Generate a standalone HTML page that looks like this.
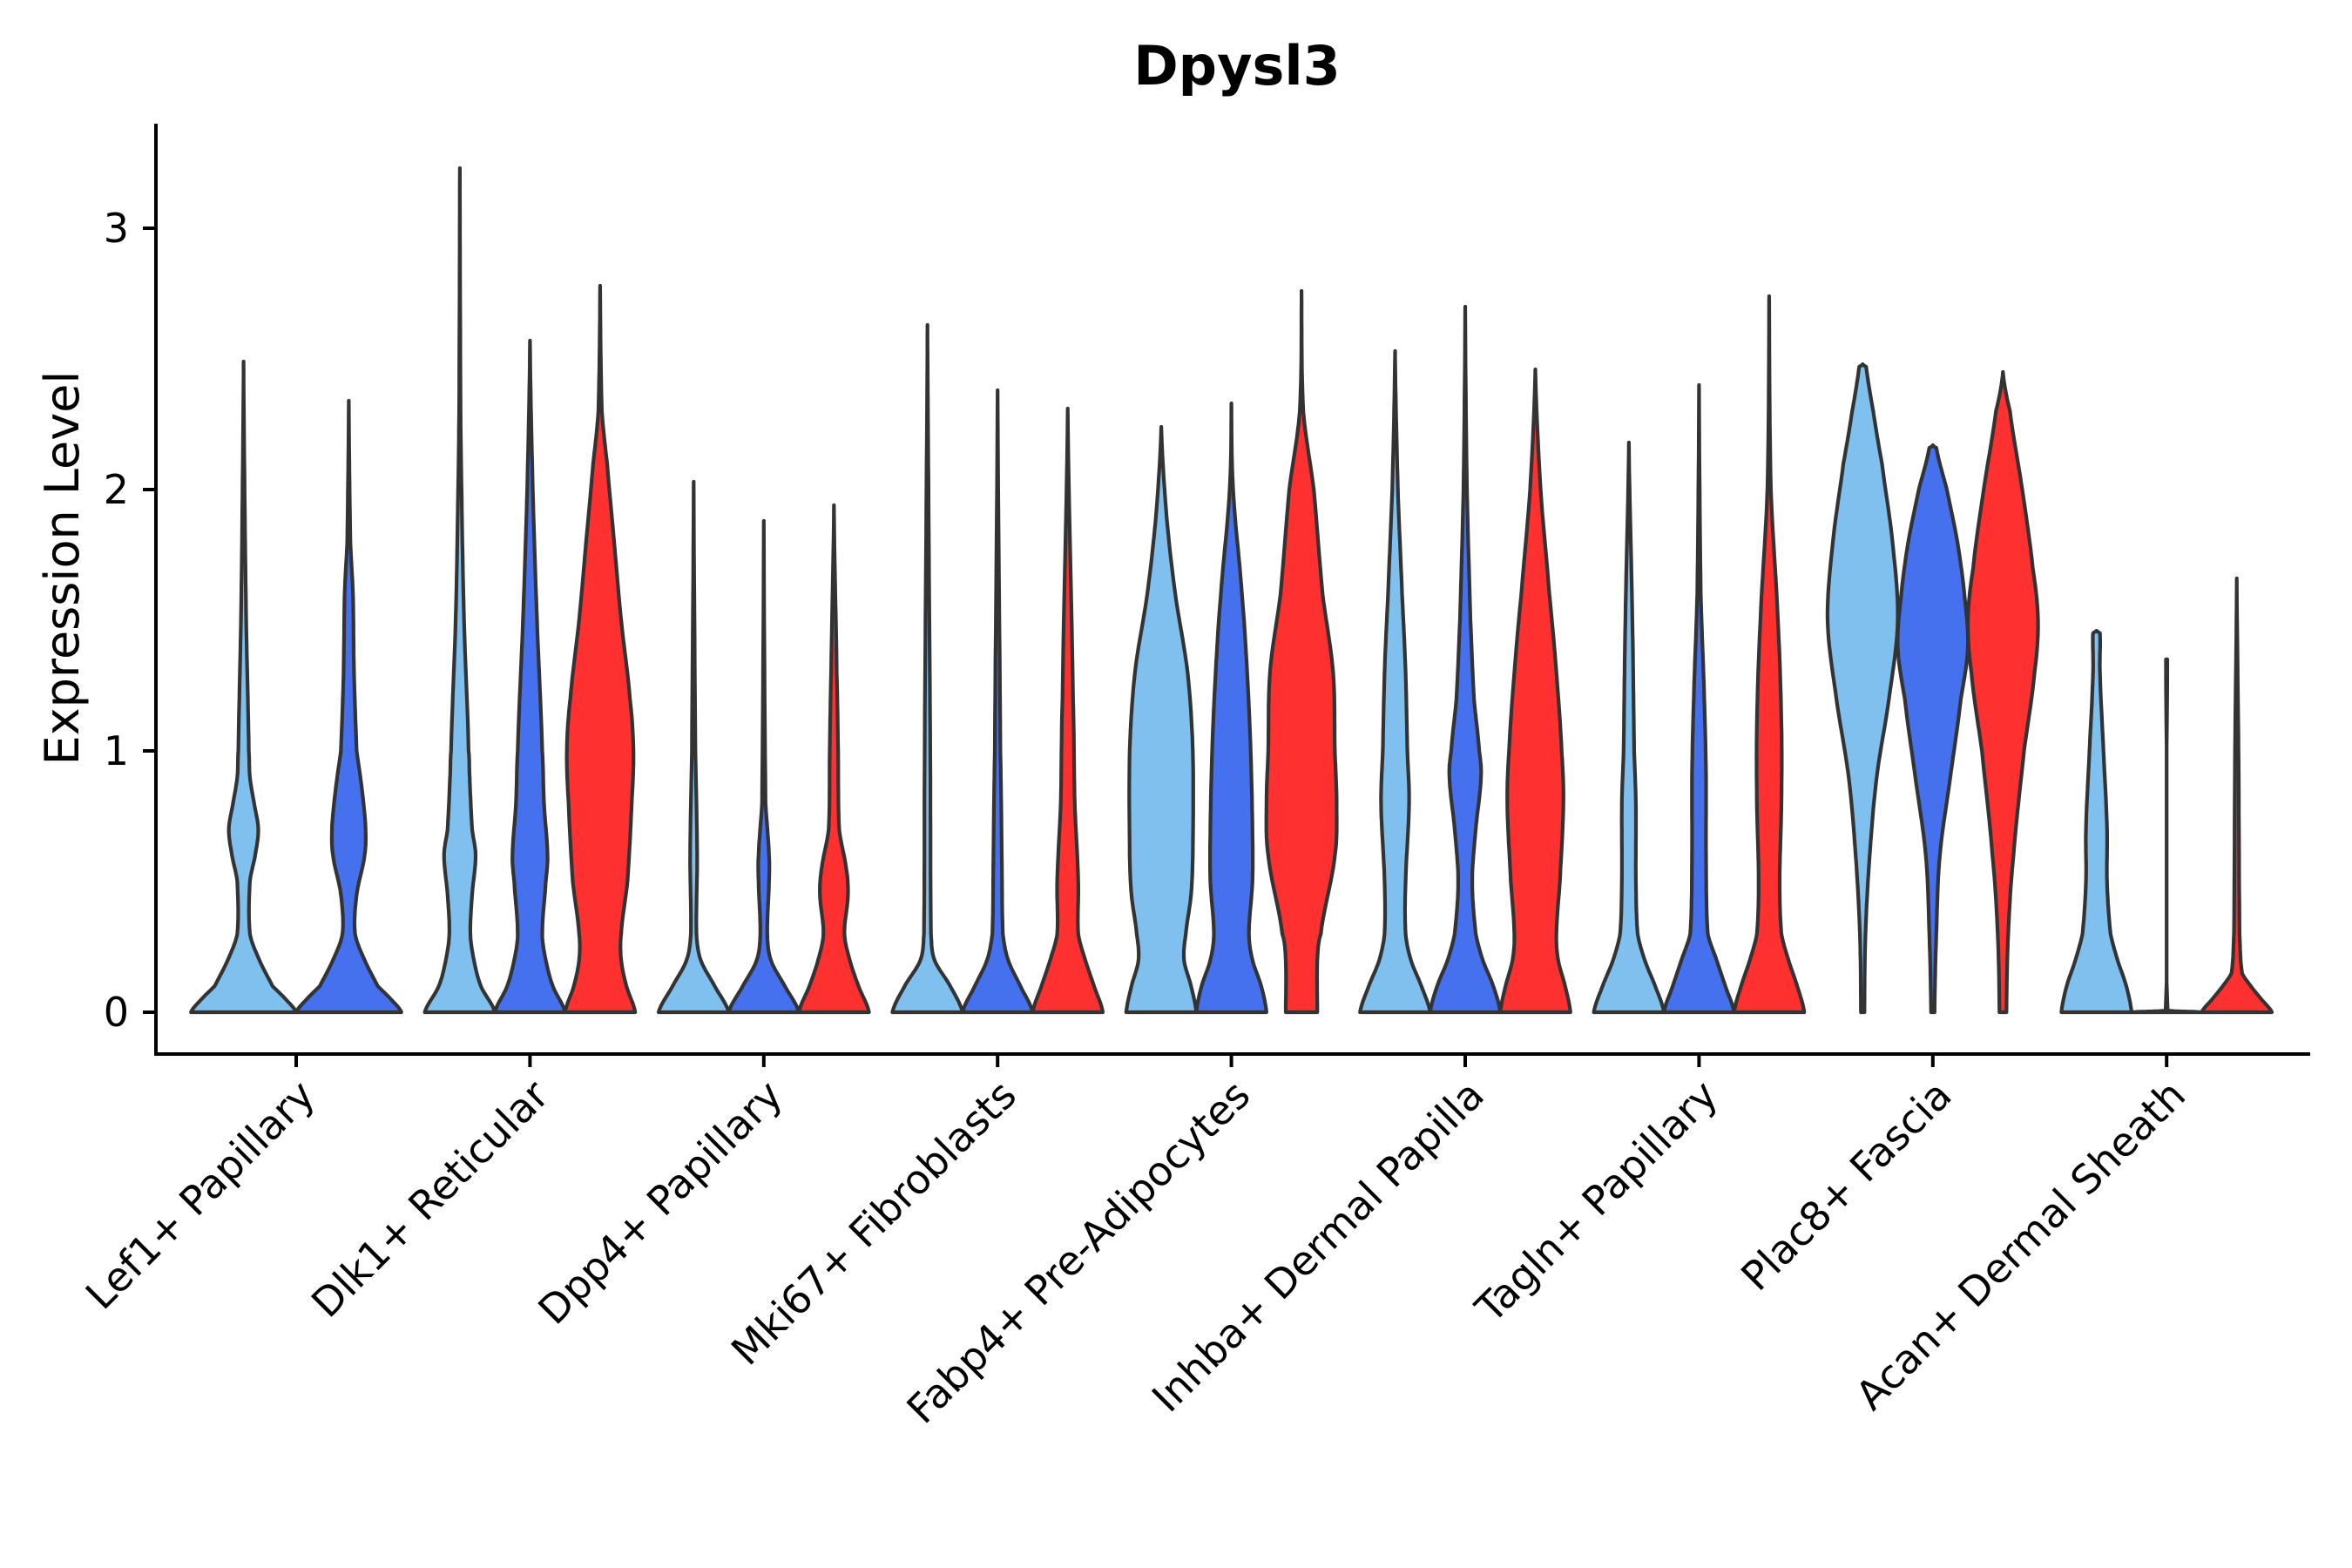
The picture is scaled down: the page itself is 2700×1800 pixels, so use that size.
<!DOCTYPE html>
<html><head><meta charset="utf-8"><style>
html,body{margin:0;padding:0;background:#fff}
svg{display:block}
text{font-family:"DejaVu Sans","Liberation Sans",sans-serif;fill:#000}
</style></head><body>
<svg id="chart" width="2700" height="1800" viewBox="0 0 2700 1800" xmlns="http://www.w3.org/2000/svg">
<text x="1420" y="97" font-size="62" font-weight="bold" text-anchor="middle">Dpysl3</text>
<text transform="translate(90,652) rotate(-90)" font-size="54" text-anchor="middle">Expression Level</text>
<g id="plot"></g>
</svg>
<script>
const categories = ["Lef1+ Papillary","Dlk1+ Reticular","Dpp4+ Papillary","Mki67+ Fibroblasts","Fabp4+ Pre-Adipocytes","Inhba+ Dermal Papilla","Tagln+ Papillary","Plac8+ Fascia","Acan+ Dermal Sheath"];
const groupNames = ["group-light","group-blue","group-red"];
const groupColors = ["#7FC0EE","#4570EE","#FF3030"];
const yTicks = [0,1,2,3];
const lef1 = [
 [0, [[0,1],[0.05,0.8],[0.1,0.55],[0.2,0.3],[0.3,0.12],[0.5,0.12],[0.6,0.22],[0.7,0.28],[0.8,0.2],[0.9,0.12],[1.0,0.1],[1.5,0.05],[2.0,0.02],[2.49,0]]],
 [1, [[0,1],[0.05,0.8],[0.1,0.55],[0.2,0.3],[0.3,0.12],[0.45,0.15],[0.6,0.3],[0.7,0.32],[0.8,0.28],[0.9,0.22],[1.0,0.15],[1.3,0.1],[1.6,0.08],[1.8,0.03],[2.34,0]]]
];
const dlk1 = [
 [0, [[0,1],[0.1,0.6],[0.2,0.4],[0.3,0.3],[0.45,0.35],[0.6,0.45],[0.7,0.35],[0.9,0.28],[1.0,0.25],[1.5,0.12],[2.0,0.05],[2.3,0.02],[3.23,0]]],
 [1, [[0,1],[0.1,0.65],[0.2,0.45],[0.3,0.35],[0.5,0.45],[0.6,0.5],[0.8,0.4],[1.0,0.35],[1.5,0.2],[2.0,0.08],[2.57,0]]],
 [2, [[0,1],[0.1,0.75],[0.2,0.6],[0.3,0.6],[0.5,0.78],[0.8,0.9],[1.0,0.95],[1.2,0.85],[1.5,0.6],[1.8,0.4],[2.1,0.2],[2.3,0.05],[2.78,0]]]
];
const dpp4 = [
 [0, [[0,1],[0.1,0.6],[0.2,0.2],[0.3,0.08],[0.6,0.1],[1.0,0.05],[2.03,0]]],
 [1, [[0,1],[0.1,0.6],[0.2,0.2],[0.3,0.1],[0.5,0.15],[0.6,0.15],[0.8,0.05],[1.88,0]]],
 [2, [[0,1],[0.1,0.7],[0.2,0.45],[0.3,0.3],[0.45,0.4],[0.55,0.35],[0.7,0.15],[1.0,0.12],[1.3,0.08],[1.94,0]]]
];
const mki67 = [
 [0, [[0,1],[0.1,0.65],[0.2,0.2],[0.3,0.1],[1.0,0.08],[2.0,0.03],[2.63,0]]],
 [1, [[0,1],[0.1,0.65],[0.2,0.3],[0.3,0.15],[0.6,0.12],[1.0,0.08],[2.38,0]]],
 [2, [[0,1],[0.1,0.75],[0.2,0.5],[0.3,0.3],[0.5,0.3],[0.8,0.2],[1.2,0.15],[2.31,0]]]
];
const fabp4 = [
 [0, [[0,1],[0.1,0.85],[0.2,0.65],[0.3,0.7],[0.45,0.85],[0.6,0.9],[1.0,0.9],[1.3,0.75],[1.6,0.4],[1.9,0.15],[2.24,0]]],
 [1, [[0,1],[0.1,0.85],[0.2,0.6],[0.3,0.5],[0.5,0.6],[0.7,0.6],[1.0,0.55],[1.3,0.45],[1.6,0.3],[2.0,0.05],[2.33,0]]],
 [2, [[0,0.45],[0.2,0.45],[0.3,0.55],[0.6,0.95],[0.8,1],[1.0,0.95],[1.3,0.9],[1.6,0.6],[2.0,0.35],[2.3,0.05],[2.76,0]]]
];
const inhba = [
 [0, [[0,1],[0.1,0.75],[0.2,0.45],[0.3,0.3],[0.5,0.3],[0.8,0.4],[1.0,0.35],[1.3,0.3],[1.6,0.2],[2.0,0.08],[2.53,0]]],
 [1, [[0,1],[0.1,0.8],[0.2,0.5],[0.3,0.3],[0.5,0.2],[0.7,0.3],[0.9,0.45],[1.0,0.4],[1.2,0.25],[1.5,0.15],[2.0,0.05],[2.7,0]]],
 [2, [[0,1],[0.1,0.85],[0.2,0.65],[0.3,0.6],[0.5,0.7],[0.8,0.8],[1.0,0.75],[1.3,0.6],[1.6,0.4],[2.0,0.15],[2.46,0]]]
];
const tagln = [
 [0, [[0,1],[0.1,0.75],[0.2,0.45],[0.3,0.25],[0.5,0.2],[0.8,0.2],[1.0,0.15],[1.5,0.1],[2.18,0]]],
 [1, [[0,1],[0.1,0.75],[0.2,0.5],[0.3,0.25],[0.6,0.2],[0.9,0.2],[1.2,0.15],[1.6,0.05],[2.4,0]]],
 [2, [[0,1],[0.1,0.8],[0.2,0.55],[0.3,0.35],[0.5,0.3],[0.8,0.35],[1.1,0.35],[1.5,0.25],[2.0,0.05],[2.74,0]]]
];
const plac8 = [
 [0, [[0,0.05],[0.3,0.08],[0.6,0.2],[0.9,0.4],[1.2,0.75],[1.5,1],[1.8,0.85],[2.1,0.55],[2.3,0.3],[2.47,0.1],[2.48,0]]],
 [1, [[0,0.05],[0.3,0.1],[0.6,0.2],[0.9,0.5],[1.2,0.8],[1.4,1.0],[1.6,0.9],[1.8,0.7],[2.0,0.4],[2.16,0.1],[2.17,0]]],
 [2, [[0,0.1],[0.3,0.15],[0.6,0.3],[1.0,0.6],[1.3,0.9],[1.5,1.0],[1.7,0.85],[2.0,0.55],[2.3,0.2],[2.45,0]]]
];
const acan = [
 [0, [[0,1],[0.1,0.85],[0.2,0.6],[0.3,0.4],[0.5,0.3],[0.7,0.3],[1.0,0.2],[1.3,0.1],[1.45,0.1],[1.46,0]]],
 [1, [[0,1],[0.006,0.03],[1.35,0.02],[1.351,0]]],
 [2, [[0,1],[0.05,0.7],[0.1,0.4],[0.15,0.15],[0.3,0.08],[1.0,0.05],[1.66,0]]]
];
const violinData = [lef1,dlk1,dpp4,mki67,fabp4,inhba,tagln,plac8,acan];

const NS="http://www.w3.org/2000/svg";
const plot=document.getElementById('plot');
const X0=340, STEP=268.4, Y0=1162, YUNIT=300;
const xScale=i=>X0+STEP*i;
const yScale=v=>Y0-YUNIT*v;
function mk(tag,attrs){const e=document.createElementNS(NS,tag);for(const k in attrs)e.setAttribute(k,attrs[k]);plot.appendChild(e);return e;}

function sample(profile,steps){
  const pts=[];
  for(let s=0;s<profile.length-1;s++){
    const p0=profile[Math.max(0,s-1)],p1=profile[s],p2=profile[s+1],p3=profile[Math.min(profile.length-1,s+2)];
    for(let k=0;k<steps;k++){
      const t=k/steps,t2=t*t,t3=t2*t;
      const f=(a,b,c,d)=>0.5*((2*b)+(-a+c)*t+(2*a-5*b+4*c-d)*t2+(-a+3*b-3*c+d)*t3);
      let y=p1[0]+(p2[0]-p1[0])*t;
      let w=f(p0[1],p1[1],p2[1],p3[1]);
      w=Math.max(0,Math.min(Math.max(p1[1],p2[1])*1.05+0.001,w));
      pts.push([y,w]);
    }
  }
  pts.push(profile[profile.length-1]);
  return pts;
}

violinData.forEach((vs,ci)=>{
  const n=vs.length;
  const slot=0.9/n;
  vs.forEach((v,j)=>{
    const g=v[0],prof=v[1];
    const cx=xScale(ci)+STEP*(-0.45+slot*(j+0.5));
    const hw=STEP*slot/2;
    const pts=sample(prof,12);
    let d='M'+(cx-hw*pts[0][1]).toFixed(1)+','+yScale(pts[0][0]).toFixed(1);
    pts.forEach(p=>{d+='L'+(cx-hw*p[1]).toFixed(1)+','+yScale(p[0]).toFixed(1);});
    for(let k=pts.length-1;k>=0;k--){const p=pts[k];d+='L'+(cx+hw*p[1]).toFixed(1)+','+yScale(p[0]).toFixed(1);}
    d+='Z';
    const path=mk('path',{d:d,fill:groupColors[g],stroke:'#333','stroke-width':4.2,'stroke-linejoin':'round'});
    
    
  });
});

const yAxis=mk('line',{x1:179,y1:142,x2:179,y2:1212,stroke:'#000','stroke-width':4});


const xAxis=mk('line',{x1:177,y1:1210,x2:2652,y2:1210,stroke:'#000','stroke-width':4});


yTicks.forEach(t=>{
  const tk=mk('line',{x1:164,y1:yScale(t),x2:179,y2:yScale(t),stroke:'#000','stroke-width':4});
  
  
  const tx=mk('text',{x:148,y:yScale(t)+16,'font-size':46,'text-anchor':'end'});
  tx.textContent=t;
  
  
});
categories.forEach((c,i)=>{
  const x=xScale(i);
  const tk=mk('line',{x1:x,y1:1210,x2:x,y2:1225,stroke:'#000','stroke-width':4});
  
  
  const tx=mk('text',{transform:'translate('+(x+24)+',1260) rotate(-45)','font-size':46,'text-anchor':'end'});
  tx.textContent=c;
  
  
});
</script>
</body></html>
